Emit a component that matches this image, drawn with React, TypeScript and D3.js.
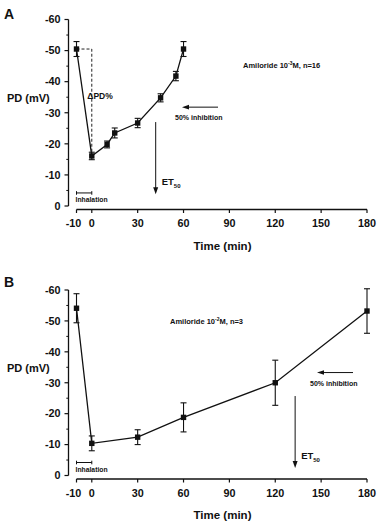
import React from "react";
import * as d3 from "d3";

// Panel A: amiloride 10^-3 M, n=16
const timesA = [-10, 0, 10, 15, 30, 45, 55, 60];
const pdA = [-50.5, -16.1, -19.8, -23.5, -26.7, -34.8, -41.8, -50.5];
const errA = [2.4, 1.2, 1.1, 1.6, 1.5, 1.3, 1.5, 2.4];

// Panel B: amiloride 10^-2 M, n=3
const timesB = [-10, 0, 30, 60, 120, 180];
const pdB = [-54.1, -10.4, -12.4, -18.8, -30.0, -53.2];
const errB = [4.7, 2.4, 2.4, 4.7, 7.3, 7.2];

const xTicks = [-10, 0, 30, 60, 90, 120, 150, 180];
const yTicks = [0, -10, -20, -30, -40, -50, -60];
const yMinorTicks = [-5, -15, -25, -35, -45, -55];

const FONT = "'Liberation Sans', Arial, Helvetica, sans-serif";

type PanelProps = {
  letter: string;
  times: number[];
  pd: number[];
  err: number[];
  yTop: number;
  yZero: number;
  xAxisY: number;
  amilorideExp: string;
  n: number;
  textX: number;
  textPd: number;
  et50: number;
  et50Top: number;
  et50Bottom: number;
  halfPd: number;
  halfX0: number;
  halfX1: number;
  showDelta: boolean;
};

function Panel(p: PanelProps) {
  const x = d3.scaleLinear().domain([-10, 180]).range([76.5, 367]);
  const y = d3.scaleLinear().domain([0, -60]).range([p.yZero, p.yTop]);
  const axisX = 68.5;
  const pts = p.times.map((t, i) => [t, p.pd[i]] as [number, number]);
  const line = d3
    .line<[number, number]>()
    .x((d) => x(d[0]))
    .y((d) => y(d[1]));

  const arrowDown = (cx: number, tipY: number) =>
    `M${cx - 2.5},${tipY - 7} L${cx + 2.5},${tipY - 7} L${cx},${tipY} Z`;
  const arrowLeft = (tipX: number, cy: number) =>
    `M${tipX + 7},${cy - 2.3} L${tipX + 7},${cy + 2.3} L${tipX},${cy} Z`;

  const etX = x(p.et50);
  const halfY = y(p.halfPd);
  const inhY = y(-4.2);

  return (
    <g fontFamily={FONT} fontWeight="bold" fill="#111">
      <text x={4} y={p.yTop + (p.letter === "A" ? -1 : -3)} fontSize={14}>
        {p.letter}
      </text>

      {/* y axis */}
      <line x1={axisX} x2={axisX} y1={y(-60)} y2={y(0)} stroke="#111" strokeWidth={1.3} />
      {yTicks.map((v) => (
        <g key={"y" + v}>
          <line x1={axisX - 4} x2={axisX} y1={y(v)} y2={y(v)} stroke="#111" strokeWidth={1.2} />
          <text x={60.5} y={y(v) + 3.8} fontSize={10.8} textAnchor="end">
            {v === 0 ? "0" : `-${Math.abs(v)}`}
          </text>
        </g>
      ))}
      {yMinorTicks.map((v) => (
        <line key={"m" + v} x1={axisX - 2.2} x2={axisX} y1={y(v)} y2={y(v)} stroke="#111" strokeWidth={1} />
      ))}
      <text x={7} y={y(-30) - 11} fontSize={11}>
        PD (mV)
      </text>

      {/* x axis */}
      <line x1={x(-10)} x2={x(180)} y1={p.xAxisY} y2={p.xAxisY} stroke="#111" strokeWidth={1.3} />
      {xTicks.map((t) => (
        <g key={"x" + t}>
          <line x1={x(t)} x2={x(t)} y1={p.xAxisY} y2={p.xAxisY + 3.5} stroke="#111" strokeWidth={1.2} />
          <text x={x(t) + (t === -10 ? -3 : 0)} y={p.xAxisY + 17.5} fontSize={10.8} textAnchor="middle">
            {t < 0 ? `-${Math.abs(t)}` : String(t)}
          </text>
        </g>
      ))}
      <text x={222.5} y={p.xAxisY + 40} fontSize={11.5} textAnchor="middle">
        Time (min)
      </text>

      {/* inhalation period */}
      <g stroke="#111" strokeWidth={1}>
        <line x1={x(-10)} x2={x(0)} y1={inhY} y2={inhY} />
        <line x1={x(-10)} x2={x(-10)} y1={inhY - 1.8} y2={inhY + 1.8} />
        <line x1={x(0)} x2={x(0)} y1={inhY - 1.8} y2={inhY + 1.8} />
      </g>
      <text x={x(-10) - 1} y={inhY + 9} fontSize={6.8}>
        Inhalation
      </text>

      {/* delta PD construction */}
      {p.showDelta && (
        <g>
          <path
            d={`M${x(-10)},${y(p.pd[0])} L${x(0)},${y(p.pd[0])} L${x(0)},${y(p.pd[1])}`}
            fill="none"
            stroke="#222"
            strokeWidth={1}
            strokeDasharray="3,2"
          />
          <text x={x(0) - 4.5} y={y(-34.5)} fontSize={8.5}>
            {"\u0394PD%"}
          </text>
        </g>
      )}

      {/* data */}
      <path d={line(pts) || ""} fill="none" stroke="#111" strokeWidth={1.3} />
      {pts.map((d, i) => {
        const cx = x(d[0]);
        const hi = y(d[1] - p.err[i]);
        const lo = y(d[1] + p.err[i]);
        return (
          <g key={"p" + i} stroke="#111" strokeWidth={1.1}>
            <line x1={cx} x2={cx} y1={hi} y2={lo} />
            <line x1={cx - 3} x2={cx + 3} y1={hi} y2={hi} />
            <line x1={cx - 3} x2={cx + 3} y1={lo} y2={lo} />
            <rect x={cx - 2.7} y={y(d[1]) - 2.7} width={5.4} height={5.4} fill="#111" stroke="none" />
          </g>
        );
      })}

      {/* annotations */}
      <text x={p.textX} y={y(p.textPd) + 2.5} fontSize={7.5}>
        Amiloride 10
        <tspan dy={-3} fontSize={5}>
          {p.amilorideExp}
        </tspan>
        <tspan dy={3}>M, n={p.n}</tspan>
      </text>

      <line x1={p.halfX1} x2={p.halfX0 + 5} y1={halfY} y2={halfY} stroke="#111" strokeWidth={1} />
      <path d={arrowLeft(p.halfX0, halfY)} fill="#111" />
      <text x={p.halfX0 - 7} y={halfY + 13} fontSize={7}>
        50% inhibition
      </text>

      <line x1={etX} x2={etX} y1={y(p.et50Top)} y2={y(p.et50Bottom) - 5} stroke="#111" strokeWidth={1} />
      <path d={arrowDown(etX, y(p.et50Bottom))} fill="#111" />
      <text x={etX + 6} y={y(p.et50Bottom) - 9} fontSize={9.5}>
        ET
        <tspan dy={2.5} fontSize={6}>
          50
        </tspan>
      </text>
    </g>
  );
}

export default function App() {
  return (
    <svg width={380} height={523} style={{ position: "absolute", left: 0, top: 0, background: "#fff" }}>
      <rect width={380} height={523} fill="#fff" />
      <Panel
        letter="A"
        times={timesA}
        pd={pdA}
        err={errA}
        yTop={19.5}
        yZero={206}
        xAxisY={209.5}
        amilorideExp="-3"
        n={16}
        textX={243}
        textPd={-45.2}
        et50={41.8}
        et50Top={-27}
        et50Bottom={-3.8}
        halfPd={-31.8}
        halfX0={182}
        halfX1={218}
        showDelta={true}
      />
      <Panel
        letter="B"
        times={timesB}
        pd={pdB}
        err={errB}
        yTop={290}
        yZero={475.5}
        xAxisY={479}
        amilorideExp="-2"
        n={3}
        textX={170}
        textPd={-49.8}
        et50={133}
        et50Top={-25.7}
        et50Bottom={-2.4}
        halfPd={-33.3}
        halfX0={317}
        halfX1={353}
        showDelta={false}
      />
    </svg>
  );
}
